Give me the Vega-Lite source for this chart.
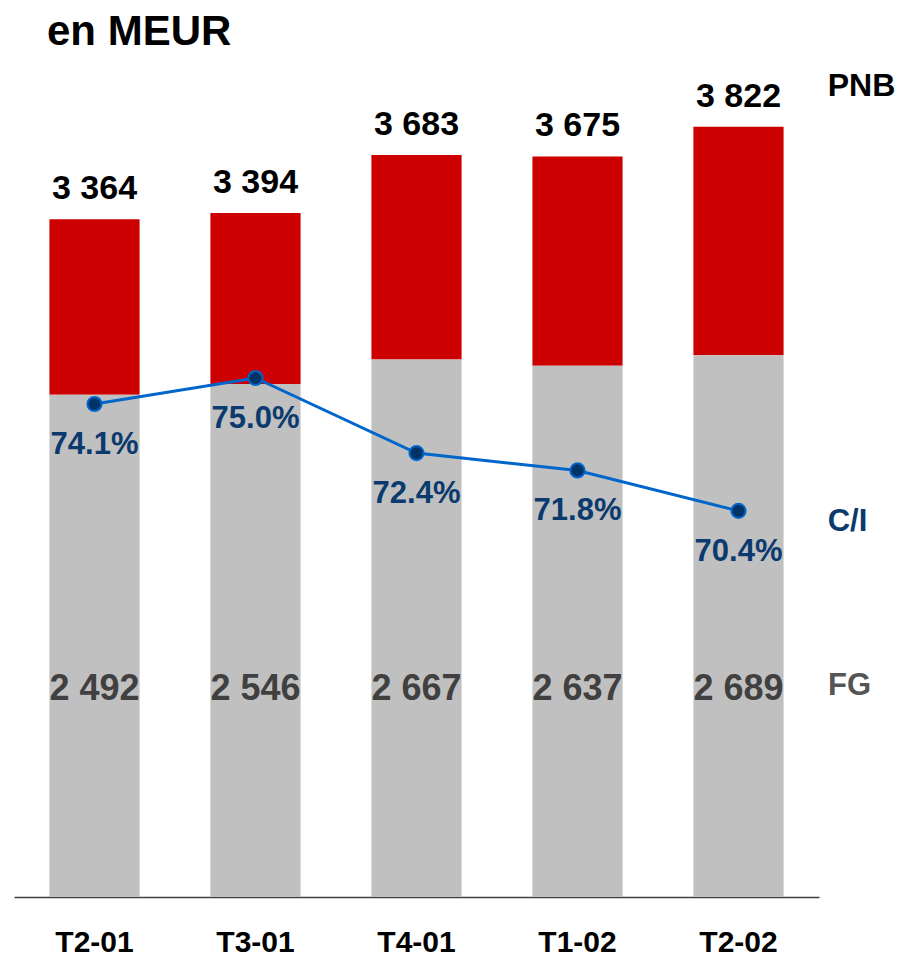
{
  "$schema": "https://vega.github.io/schema/vega-lite/v6.json",
  "width": 805,
  "height": 806,
  "autosize": "none",
  "padding": {"left": 14, "top": 91, "right": 82, "bottom": 59},
  "background": "white",
  "title": {
    "text": "en MEUR",
    "anchor": "start",
    "frame": "group",
    "dx": 33,
    "offset": -17,
    "font": "Liberation Sans",
    "fontSize": 42,
    "fontWeight": "bold",
    "color": "#000000",
    "baseline": "alphabetic"
  },
  "config": {
    "view": {"stroke": null},
    "font": "Liberation Sans"
  },
  "data": {
    "values": [
      {"Trimestre": "T2-01", "PNB": 3364, "FG": 2492, "CI": 74.1},
      {"Trimestre": "T3-01", "PNB": 3394, "FG": 2546, "CI": 75.0},
      {"Trimestre": "T4-01", "PNB": 3683, "FG": 2667, "CI": 72.4},
      {"Trimestre": "T1-02", "PNB": 3675, "FG": 2637, "CI": 71.8},
      {"Trimestre": "T2-02", "PNB": 3822, "FG": 2689, "CI": 70.4}
    ]
  },
  "encoding": {
    "x": {
      "field": "Trimestre",
      "type": "nominal",
      "sort": null,
      "scale": {"paddingInner": 0.44, "paddingOuter": 0.22},
      "axis": {
        "title": null,
        "labelAngle": 0,
        "ticks": false,
        "domainColor": "#404040",
        "domainWidth": 1.5,
        "labelFont": "Liberation Sans",
        "labelFontSize": 30,
        "labelFontWeight": "bold",
        "labelColor": "#000000",
        "labelPadding": 45,
        "labelBaseline": "middle"
      }
    }
  },
  "layer": [
    {
      "encoding": {
        "y": {"type": "quantitative", "scale": {"domain": [0, 4000], "nice": false}, "axis": null}
      },
      "layer": [
        {
          "mark": {"type": "bar", "color": "#CC0000"},
          "encoding": {
            "y": {"field": "PNB", "type": "quantitative"},
            "y2": {"field": "FG"}
          }
        },
        {
          "mark": {"type": "bar", "color": "#C0C0C0"},
          "encoding": {"y": {"field": "FG", "type": "quantitative"}}
        },
        {
          "transform": [{"calculate": "replace(format(datum.PNB, ','), ',', ' ')", "as": "PNBlab"}],
          "mark": {"type": "text", "fontSize": 34, "fontWeight": "bold", "color": "#000000", "baseline": "alphabetic", "dy": -20},
          "encoding": {
            "y": {"field": "PNB", "type": "quantitative"},
            "text": {"field": "PNBlab"}
          }
        },
        {
          "transform": [{"calculate": "replace(format(datum.FG, ','), ',', ' ')", "as": "FGlab"}],
          "mark": {"type": "text", "fontSize": 36, "fontWeight": "bold", "color": "#404040", "baseline": "middle"},
          "encoding": {
            "y": {"datum": 1030, "type": "quantitative"},
            "text": {"field": "FGlab"}
          }
        },
        {
          "transform": [{"filter": "datum.Trimestre == 'T2-02'"}],
          "mark": {"type": "text", "fontSize": 32, "fontWeight": "bold", "color": "#000000", "baseline": "alphabetic", "dx": 123, "dy": -31},
          "encoding": {
            "y": {"field": "PNB", "type": "quantitative"},
            "text": {"value": "PNB"}
          }
        },
        {
          "transform": [{"filter": "datum.Trimestre == 'T2-02'"}],
          "mark": {"type": "text", "fontSize": 31, "fontWeight": "bold", "color": "#555555", "baseline": "middle", "dx": 111, "dy": -3},
          "encoding": {
            "y": {"datum": 1030, "type": "quantitative"},
            "text": {"value": "FG"}
          }
        }
      ]
    },
    {
      "encoding": {
        "y": {"type": "quantitative", "scale": {"domain": [57.04, 84.93], "nice": false, "zero": false}, "axis": null}
      },
      "layer": [
        {
          "mark": {"type": "line", "color": "#0066CC", "strokeWidth": 3},
          "encoding": {"y": {"field": "CI", "type": "quantitative"}}
        },
        {
          "mark": {"type": "point", "filled": true, "fill": "#003366", "stroke": "#0066CC", "strokeWidth": 2, "size": 200, "opacity": 1},
          "encoding": {"y": {"field": "CI", "type": "quantitative"}}
        },
        {
          "transform": [{"calculate": "format(datum.CI, '.1f') + '%'", "as": "CIlab"}],
          "mark": {"type": "text", "fontSize": 31, "fontWeight": "bold", "color": "#0B3A6E", "baseline": "middle", "dy": 41},
          "encoding": {
            "y": {"field": "CI", "type": "quantitative"},
            "text": {"field": "CIlab"}
          }
        },
        {
          "transform": [{"filter": "datum.Trimestre == 'T2-02'"}],
          "mark": {"type": "text", "fontSize": 31, "fontWeight": "bold", "color": "#0B3A6E", "baseline": "middle", "dx": 109, "dy": 11},
          "encoding": {
            "y": {"field": "CI", "type": "quantitative"},
            "text": {"value": "C/I"}
          }
        }
      ]
    }
  ],
  "resolve": {"scale": {"y": "independent"}}
}
